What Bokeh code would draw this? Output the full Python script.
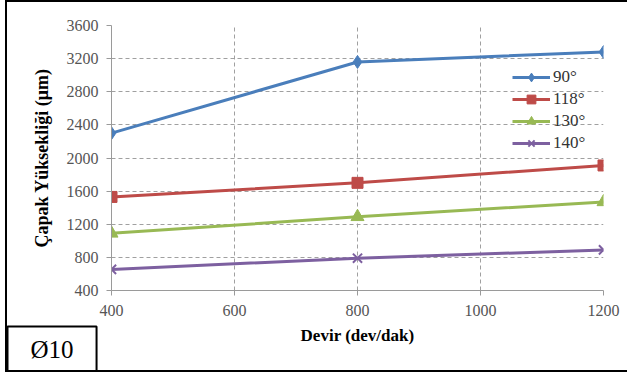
from bokeh.plotting import figure
from bokeh.models import Range1d, Legend, LegendItem, FixedTicker, Title
from bokeh.embed import file_html
from bokeh.resources import INLINE

devir = [400, 800, 1200]
s90 = [2300, 3160, 3280]
s118 = [1530, 1700, 1910]
s130 = [1090, 1290, 1470]
s140 = [655, 790, 890]
series_names = ["90°", "118°", "130°", "140°"]
x_ticks = [400, 600, 800, 1000, 1200]
y_ticks = [400, 800, 1200, 1600, 2000, 2400, 2800, 3200, 3600]
panel_tag = "Ø10"

SERIF = "Liberation Serif"

p = figure(width=622, height=372, output_backend="svg", toolbar_location=None,
           x_range=Range1d(400, 1200), y_range=Range1d(400, 3600),
           min_border_left=104, min_border_right=26, min_border_top=23, min_border_bottom=84)
p.styles = {"border-top": "2px solid black", "border-left": "2px solid black",
            "border-bottom": "2px solid black", "box-sizing": "border-box", "margin-left": "5px"}
p.outline_line_color = None
p.background_fill_color = "white"

for ax in (p.xaxis[0], p.yaxis[0]):
    ax.axis_line_color = "#9a9a9a"
    ax.major_tick_line_color = "#9a9a9a"
    ax.minor_tick_line_color = None
    ax.major_tick_in = 0
    ax.major_tick_out = 5
    ax.major_label_text_font = SERIF
    ax.major_label_text_font_size = "16px"
    ax.major_label_text_color = "#555555"
    ax.axis_label_text_font = SERIF
    ax.axis_label_text_font_style = "bold"
    ax.axis_label_text_font_size = "17px"
    ax.axis_label_text_color = "black"
p.yaxis.axis_label_text_font_size = "18px"

p.xaxis.ticker = FixedTicker(ticks=x_ticks)
p.yaxis.ticker = FixedTicker(ticks=y_ticks)
p.xaxis.axis_label = "Devir (dev/dak)"
p.yaxis.axis_label = "Çapak Yüksekliği (μm)"
p.xaxis.major_label_standoff = 9
p.xaxis.axis_label_standoff = 7
p.yaxis.major_label_standoff = 8
p.yaxis.axis_label_standoff = 12

for g in (p.xgrid[0], p.ygrid[0]):
    g.grid_line_color = "#a0a0a0"
    g.grid_line_dash = "4 3"
    g.grid_line_width = 1

colors = ["#4A7EBB", "#BE4B48", "#98B954", "#7D60A0"]
data = [s90, s118, s130, s140]
items = []
for name, ys, c, m in zip(series_names, data, colors, ["diamond", "square", "triangle", "x"]):
    l = p.line(devir, ys, line_color=c, line_width=3)
    if m == "x":
        mk = p.scatter(devir, ys, marker=m, size=13, line_color=c, line_width=2)
    else:
        mk = p.scatter(devir, ys, marker=m, size=13 if m != "square" else 11, fill_color=c, line_color=c)
    items.append(LegendItem(label=name, renderers=[l, mk]))

legend = Legend(items=items, location=(401, 136))
legend.background_fill_alpha = 0
legend.border_line_color = None
legend.label_text_font = SERIF
legend.label_text_font_size = "17px"
legend.label_text_color = "#333333"
legend.glyph_width = 38
legend.spacing = 0
legend.label_height = 22
legend.glyph_height = 22
legend.padding = 0
legend.label_standoff = 3
p.add_layout(legend)

tag = Title(text=panel_tag, align="left", offset=-104, standoff=-48, vertical_align="bottom",
            text_font=SERIF, text_font_style="normal", text_font_size="25px", text_color="black",
            border_line_color="black", border_line_width=2, background_fill_color="white",
            padding=(23, 9))
p.add_layout(tag, "below")

open("out.html", "w").write(file_html(p, INLINE))
